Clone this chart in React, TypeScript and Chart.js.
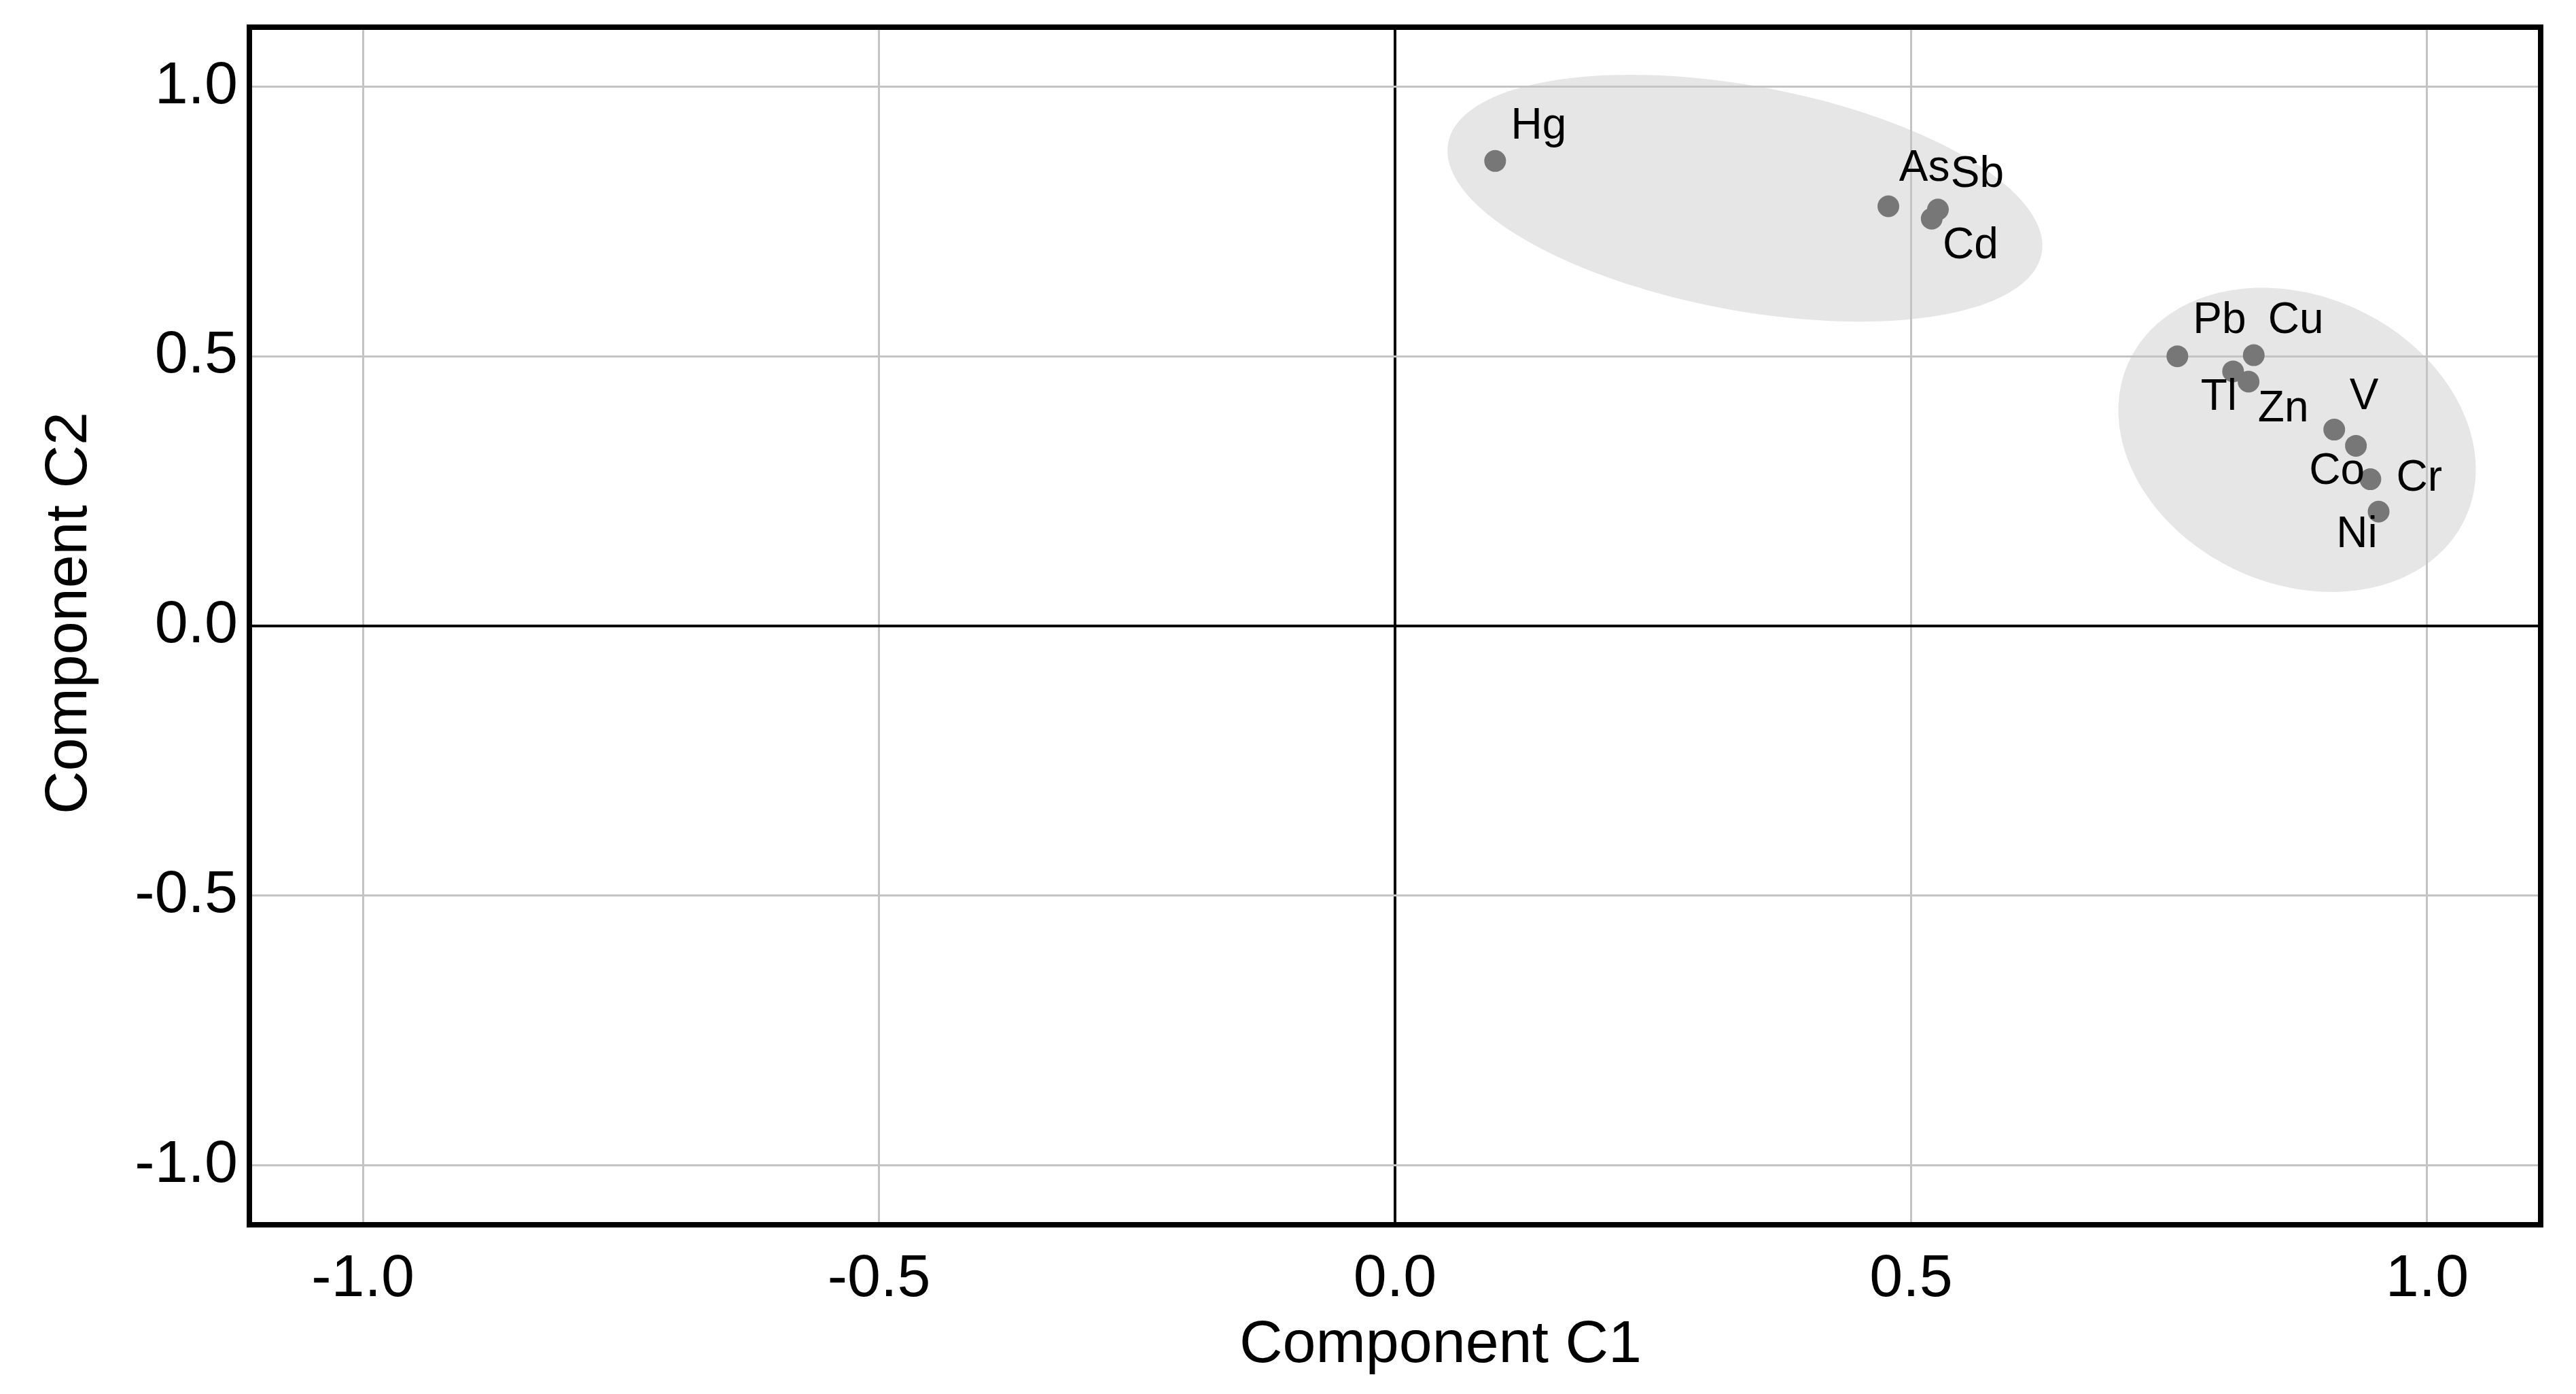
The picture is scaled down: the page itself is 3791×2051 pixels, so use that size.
import React, { useEffect, useRef } from "react";
import { Chart, registerables } from "chart.js";

Chart.register(...registerables);

// ---- data ----
const elementNames = ["Hg", "As", "Sb", "Cd", "Pb", "Cu", "Tl", "Zn", "V", "Co", "Cr", "Ni"];
const componentC1 = [0.097, 0.478, 0.526, 0.52, 0.758, 0.832, 0.812, 0.827, 0.91, 0.931, 0.945, 0.953];
const componentC2 = [0.862, 0.778, 0.772, 0.755, 0.5, 0.502, 0.472, 0.453, 0.364, 0.334, 0.272, 0.212];

// group ellipses (data units)
const ellipseCenterC1 = [0.339, 0.874];
const ellipseCenterC2 = [0.793, 0.345];
const ellipseSemiMajor = [0.312, 0.285];
const ellipseSemiMinor = [0.195, 0.168];
const ellipseAngleDeg = [-29.4, -79.5];

const xTickValues = [-1, -0.5, 0, 0.5, 1];
const yTickValues = [-1, -0.5, 0, 0.5, 1];
const axisMin = -1.11;
const axisMax = 1.11;

const xTitle = "Component C1";
const yTitle = "Component C2";

// label placement (pixel offsets of the label's cap-centre from the point)
const labelOffsetX = [64, 53, 58, 57, 62, 62, -21, 51, 44, -28, 72, -32];
const labelOffsetY = [-56, -60, -56, 35, -57, -55, 34, 36, -53, 33, -6, 29];

const FONT = '"Liberation Sans", Arial, Helvetica, sans-serif';
const W = 3791;
const H = 2051;

const ellipsePlugin = {
  id: "groupEllipses",
  beforeDraw(chart: any) {
    const { ctx, scales } = chart;
    const xs = scales.x;
    const ys = scales.y;
    ctx.save();
    ctx.fillStyle = "#e6e6e6";
    for (let i = 0; i < ellipseCenterC1.length; i++) {
      const phi = (ellipseAngleDeg[i] * Math.PI) / 180;
      const a = ellipseSemiMajor[i];
      const b = ellipseSemiMinor[i];
      ctx.beginPath();
      const n = 180;
      for (let k = 0; k <= n; k++) {
        const t = (k / n) * Math.PI * 2;
        const dx = a * Math.cos(t) * Math.cos(phi) - b * Math.sin(t) * Math.sin(phi);
        const dy = a * Math.cos(t) * Math.sin(phi) + b * Math.sin(t) * Math.cos(phi);
        const px = xs.getPixelForValue(ellipseCenterC1[i] + dx);
        const py = ys.getPixelForValue(ellipseCenterC2[i] + dy);
        if (k === 0) ctx.moveTo(px, py);
        else ctx.lineTo(px, py);
      }
      ctx.closePath();
      ctx.fill();
    }
    ctx.restore();
  },
};

const labelPlugin = {
  id: "pointLabels",
  afterDatasetsDraw(chart: any) {
    const { ctx } = chart;
    const meta = chart.getDatasetMeta(0);
    const size = 64;
    ctx.save();
    ctx.font = `${size}px ${FONT}`;
    ctx.fillStyle = "#000";
    ctx.textAlign = "center";
    ctx.textBaseline = "alphabetic";
    meta.data.forEach((el: any, i: number) => {
      ctx.fillText(
        elementNames[i],
        el.x + labelOffsetX[i],
        el.y + labelOffsetY[i] + 0.358 * size
      );
    });
    ctx.restore();
  },
};

const framePlugin = {
  id: "frameAndTitles",
  afterDraw(chart: any) {
    const { ctx, chartArea } = chart;
    const { left, right, top, bottom } = chartArea;
    ctx.save();
    ctx.strokeStyle = "#000";
    ctx.lineWidth = 8;
    ctx.strokeRect(left, top, right - left, bottom - top);

    const size = 88;
    ctx.font = `${size}px ${FONT}`;
    ctx.fillStyle = "#000";
    ctx.textAlign = "center";
    ctx.textBaseline = "alphabetic";
    ctx.fillText(xTitle, (left + right) / 2 + 67, bottom + 170 + 0.358 * size);

    ctx.translate(95 + 0.358 * size, (top + bottom) / 2 - 19);
    ctx.rotate(-Math.PI / 2);
    ctx.fillText(yTitle, 0, 0);
    ctx.restore();
  },
};

export default function App() {
  const canvasRef = useRef<HTMLCanvasElement | null>(null);

  useEffect(() => {
    const canvas = canvasRef.current;
    if (!canvas) return;
    const gridColor = (c: any) => (c.tick && c.tick.value === 0 ? "#000000" : "#c4c4c4");
    const gridWidth = (c: any) => (c.tick && c.tick.value === 0 ? 4 : 3);
    const chart = new Chart(canvas, {
      type: "scatter",
      data: {
        datasets: [
          {
            label: "loadings",
            data: elementNames.map((_, i) => ({ x: componentC1[i], y: componentC2[i] })),
            backgroundColor: "#777777",
            borderWidth: 0,
            pointRadius: 16,
            pointHoverRadius: 16,
          },
        ],
      },
      options: {
        responsive: false,
        animation: false,
        devicePixelRatio: 1,
        layout: { padding: { top: 40, right: W - 3739, left: 0, bottom: 0 } },
        plugins: {
          legend: { display: false },
          tooltip: { enabled: false },
        },
        scales: {
          x: {
            type: "linear",
            min: axisMin,
            max: axisMax,
            afterBuildTicks: (s: any) => {
              s.ticks = xTickValues.map((v) => ({ value: v }));
            },
            afterFit: (s: any) => {
              s.height = H - 1802;
              s.paddingLeft = 0;
              s.paddingRight = 0;
            },
            ticks: {
              padding: 28,
              color: "#000",
              font: { family: FONT, size: 88 },
              callback: (v: any) => Number(v).toFixed(1),
              maxRotation: 0,
              autoSkip: false,
            },
            grid: { color: gridColor, lineWidth: gridWidth, drawTicks: false },
            border: { display: false },
            title: { display: false },
          },
          y: {
            type: "linear",
            min: axisMin,
            max: axisMax,
            afterBuildTicks: (s: any) => {
              s.ticks = yTickValues.map((v) => ({ value: v }));
            },
            afterFit: (s: any) => {
              s.width = 367;
              s.paddingTop = 0;
              s.paddingBottom = 0;
            },
            ticks: {
              padding: 17,
              color: "#000",
              font: { family: FONT, size: 88 },
              callback: (v: any) => Number(v).toFixed(1),
              autoSkip: false,
            },
            grid: { color: gridColor, lineWidth: gridWidth, drawTicks: false },
            border: { display: false },
            title: { display: false },
          },
        },
      },
      plugins: [ellipsePlugin, labelPlugin, framePlugin],
    } as any);
    return () => chart.destroy();
  }, []);

  return (
    <div style={{ position: "fixed", left: 0, top: 0, width: W, height: H, background: "#fff" }}>
      <canvas ref={canvasRef} width={W} height={H} style={{ width: W, height: H, display: "block" }} />
    </div>
  );
}
